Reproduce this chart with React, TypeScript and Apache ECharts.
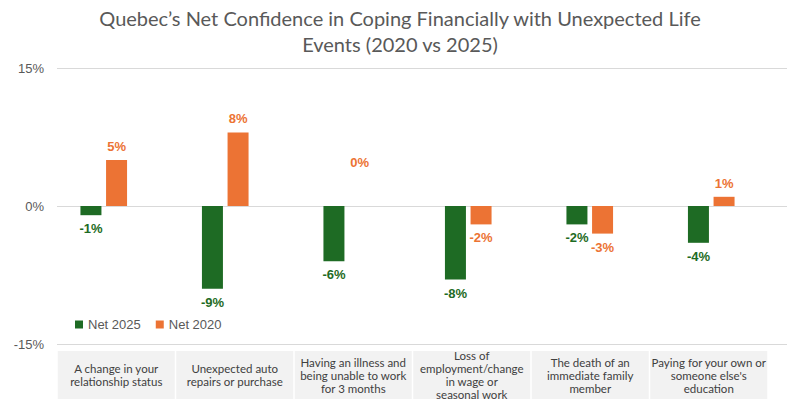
import React, { useEffect, useRef } from "react";
import * as echarts from "echarts";

const categories = [
  "A change in your relationship status",
  "Unexpected auto repairs or purchase",
  "Having an illness and being unable to work for 3 months",
  "Loss of employment/change in wage or seasonal work",
  "The death of an immediate family member",
  "Paying for your own or someone else's education",
];
const categoryLabels = [
  "A change in your\nrelationship status",
  "Unexpected auto\nrepairs or purchase",
  "Having an illness and\nbeing unable to work\nfor 3 months",
  "Loss of\nemployment/change\nin wage or\nseasonal work",
  "The death of an\nimmediate family\nmember",
  "Paying for your own or\nsomeone else's\neducation",
];
const net2025 = [-1, -9, -6, -8, -2, -4];
const net2020 = [5, 8, 0, -2, -3, 1];
const yTicks = [-15, 0, 15];

const GREEN = "#1E6B24";
const ORANGE = "#EC7334";
const GRAY = "#595959";

export default function App() {
  const ref = useRef<HTMLDivElement>(null);
  useEffect(() => {
    if (!ref.current) return;
    const chart = echarts.init(ref.current, null, { renderer: "svg" });
    const yMin = yTicks[0];
    const yMax = yTicks[yTicks.length - 1];
    const interval = yTicks[1] - yTicks[0];
    const labelFor = (color: string) => ({
      show: true,
      color,
      fontFamily: "Liberation Sans, Arial, sans-serif",
      fontWeight: "bold" as const,
      fontSize: 13,
      distance: 7,
      formatter: (p: any) => `${p.value}%`,
    });
    const mkData = (vals: number[]) =>
      vals.map((v) => ({
        value: v,
        label: { position: v < 0 ? "bottom" : "top", ...(v === 0 ? { offset: [0, -30] } : {}) },
      }));
    chart.setOption({
      animation: false,
      backgroundColor: "#ffffff",
      title: {
        text: "Quebec\u2019s Net Confidence in Coping Financially with Unexpected Life\nEvents (2020 vs 2025)",
        left: "center",
        top: 0,
        textStyle: {
          color: GRAY,
          fontFamily: "Lato, sans-serif",
          fontWeight: "normal",
          fontSize: 20,
          lineHeight: 26,
        },
      },
      legend: {
        left: 70,
        top: 313,
        itemWidth: 8,
        itemHeight: 8,
        itemGap: 15,
        icon: "rect",
        textStyle: { color: GRAY, fontFamily: "Liberation Sans, Arial, sans-serif", fontSize: 13 },
        data: ["Net 2025", "Net 2020"],
      },
      grid: [
        { left: 57, width: 730, top: 68, height: 276 },
        { left: 43, width: 729, top: 68, height: 276 },
        { left: 57, width: 711, top: 68, height: 276 },
      ],
      xAxis: [
        { gridIndex: 0, type: "category", data: categories, show: false },
        { gridIndex: 1, type: "category", data: categories, show: false },
        {
          gridIndex: 2,
          type: "category",
          data: categoryLabels,
          axisLine: { show: false },
          axisTick: { show: false },
          axisLabel: {
            interval: 0,
            margin: 31,
            verticalAlign: "middle",
            align: "center",
            width: 117,
            height: 48,
            backgroundColor: "#F2F2F2",
            color: "#404040",
            fontFamily: "Lato, sans-serif",
            fontSize: 11.5,
            lineHeight: 13,
          },
        },
      ],
      yAxis: [
        {
          gridIndex: 0,
          type: "value",
          min: yMin,
          max: yMax,
          interval,
          axisLine: { show: false },
          axisTick: { show: false },
          splitLine: { lineStyle: { color: "#D9D9D9", width: 1 } },
          axisLabel: {
            formatter: "{value}%",
            color: GRAY,
            fontFamily: "Liberation Sans, Arial, sans-serif",
            fontSize: 13,
            margin: 13,
          },
        },
        { gridIndex: 1, type: "value", min: yMin, max: yMax, interval, show: false, splitLine: { show: false } },
        { gridIndex: 2, type: "value", min: yMin, max: yMax, interval, show: false, splitLine: { show: false } },
      ],
      series: [
        {
          name: "Net 2025",
          type: "bar",
          xAxisIndex: 1,
          yAxisIndex: 1,
          barWidth: 21,
          barGap: "22%",
          itemStyle: { color: GREEN },
          label: labelFor(GREEN),
          data: mkData(net2025),
        },
        {
          name: "Net 2020",
          type: "bar",
          xAxisIndex: 1,
          yAxisIndex: 1,
          barWidth: 21,
          barGap: "22%",
          itemStyle: { color: ORANGE },
          label: labelFor(ORANGE),
          data: mkData(net2020),
        },
      ],
    });
    return () => chart.dispose();
  }, []);
  return (
    <div
      ref={ref}
      style={{ position: "fixed", left: 0, top: 0, width: 800, height: 415 }}
    />
  );
}
